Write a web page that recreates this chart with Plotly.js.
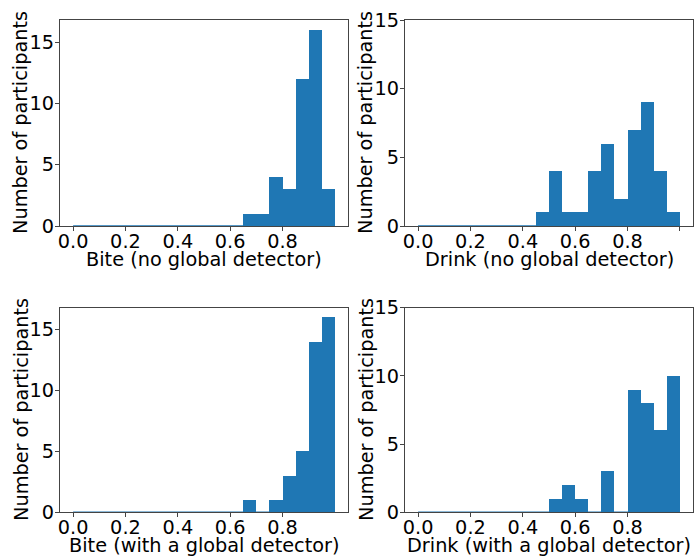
<!DOCTYPE html>
<html>
<head>
<meta charset="utf-8">
<script src="https://cdn.plot.ly/plotly-3.0.1.min.js"></script>
<style>html,body{margin:0;padding:0;background:#fff}#plot{width:694px;height:556px}</style>
</head>
<body>
<div id="plot"></div>
<script>
// Bin edges: 0.00 .. 1.00 step 0.05 (20 bins)
const binEdges = [0.00,0.05,0.10,0.15,0.20,0.25,0.30,0.35,0.40,0.45,0.50,0.55,0.60,0.65,0.70,0.75,0.80,0.85,0.90,0.95,1.00];

// Counts per bin
const biteNoGlobal    = [0,0,0,0,0,0,0,0,0,0,0,0,0,1,1,4,3,12,16,3];
const drinkNoGlobal   = [0,0,0,0,0,0,0,0,0,1,4,1,1,4,6,2,7,9,4,1];
const biteWithGlobal  = [0,0,0,0,0,0,0,0,0,0,0,0,0,1,0,1,3,5,14,16];
const drinkWithGlobal = [0,0,0,0,0,0,0,0,0,0,1,2,1,0,3,0,9,8,6,10];

const xLabels = ["Bite (no global detector)","Drink (no global detector)","Bite (with a global detector)","Drink (with a global detector)"];
const yLabel = "Number of participants";
const xTicksShort = [0,0.2,0.4,0.6,0.8];
const xTicksFull = [0,0.2,0.4,0.6,0.8,1.0];
const yTicks = [0,5,10,15];

const color = '#1f77b4';
const centers = binEdges.slice(0,-1).map((e,i)=>(e+binEdges[i+1])/2);
const widths = binEdges.slice(0,-1).map((e,i)=>binEdges[i+1]-e);

const series = [biteNoGlobal, drinkNoGlobal, biteWithGlobal, drinkWithGlobal];
const traces = [];
series.forEach((s,k)=>{
  const ax = k===0 ? '' : String(k+1);
  traces.push({type:'scatter', mode:'lines', x:[binEdges[0], binEdges[binEdges.length-1]], y:[0,0],
    xaxis:'x'+ax, yaxis:'y'+ax, line:{color:color,width:1.5}, hoverinfo:'skip', showlegend:false});
  traces.push({type:'bar', x:centers, y:s, width:widths, xaxis:'x'+ax, yaxis:'y'+ax,
    marker:{color:color, line:{width:0}}, showlegend:false});
});

const W=694, H=556;
const xdL=[60/W,348/W], xdR=[405/W,693/W];
const ydT=[1-226/H,1-20/H], ydB=[1-512.3/H,1-307.7/H];
const font = {family:'DejaVu Sans', size:19.3, color:'#000'};

function xa(domain, anchor, ticks){
  return {domain:domain, anchor:anchor, range:[-0.05,1.05], tickvals:ticks, ticktext:ticks.map(v=>v.toFixed(1)),
    showgrid:false, zeroline:false, showline:true, mirror:true, linecolor:'#444', linewidth:1,
    ticks:'outside', ticklen:4, tickcolor:'#444', tickfont:font, ticklabelstandoff:-6, automargin:false};
}
function ya(domain, anchor, top){
  return {domain:domain, anchor:anchor, range:[0,top], tickvals:yTicks,
    showgrid:false, zeroline:false, showline:true, mirror:true, linecolor:'#444', linewidth:1,
    ticks:'outside', ticklen:4, tickcolor:'#444', tickfont:font, ticklabelstandoff:-3, automargin:false};
}

const mid = d => (d[0]+d[1])/2;
const titleSpots = [
  {xd:xdL, xy:1-259/H, yx:21/W, yd:ydT},
  {xd:xdR, xy:1-259/H, yx:366/W, yd:ydT},
  {xd:xdL, xy:1-545/H, yx:21/W, yd:ydB},
  {xd:xdR, xy:1-545/H, yx:366/W, yd:ydB}
];
const annotations = [];
titleSpots.forEach((p,k)=>{
  annotations.push({text:xLabels[k], xref:'paper', yref:'paper', x:mid(p.xd), y:p.xy,
    xanchor:'center', yanchor:'middle', showarrow:false, font:font});
  annotations.push({text:yLabel, xref:'paper', yref:'paper', x:p.yx, y:mid(p.yd), textangle:-90,
    xanchor:'center', yanchor:'middle', showarrow:false, font:font});
});

const layout = {
  width:W, height:H, margin:{l:0,r:0,t:0,b:0}, paper_bgcolor:'#fff', plot_bgcolor:'#fff',
  bargap:0, showlegend:false, font:font, annotations:annotations,
  xaxis: xa(xdL,'y',xTicksShort),  yaxis: ya(ydT,'x',16.8),
  xaxis2: xa(xdR,'y2',xTicksFull), yaxis2: ya(ydT,'x2',15),
  xaxis3: xa(xdL,'y3',xTicksShort), yaxis3: ya(ydB,'x3',16.8),
  xaxis4: xa(xdR,'y4',xTicksShort), yaxis4: ya(ydB,'x4',15)
};

Plotly.newPlot('plot', traces, layout, {displayModeBar:false, staticPlot:true});
</script>
</body>
</html>
